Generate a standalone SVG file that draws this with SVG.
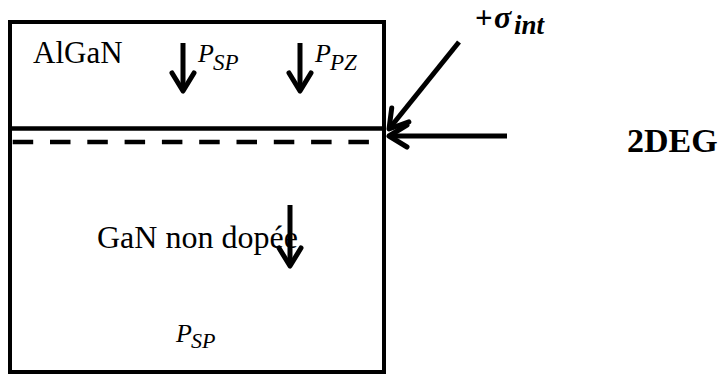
<svg xmlns="http://www.w3.org/2000/svg" width="720" height="376" viewBox="0 0 720 376">
<style>
.border{fill:none;stroke:#000;stroke-width:4}
.t{font-family:'Liberation Serif','Times New Roman',serif;fill:#000}
.m{font-family:'Liberation Serif','Times New Roman',serif;font-style:italic;fill:#000}
.arr{stroke:#000;stroke-width:5;fill:none}
</style>
<defs>
<marker id="ah" markerUnits="userSpaceOnUse" markerWidth="30" markerHeight="30" viewBox="-25 -15 30 30" refX="0" refY="0" orient="auto">
<path d="M-18,-11 L0,0 L-18,11" fill="none" stroke="#000" stroke-width="5" stroke-linejoin="round" stroke-linecap="round"/>
</marker>
</defs>
<g id="structure">
<rect class="border" x="10" y="22" width="374" height="350"/>
<line x1="10" y1="128.5" x2="384" y2="128.5" stroke="#000" stroke-width="4.5"/>
<line x1="12.7" y1="142" x2="370" y2="142" stroke="#000" stroke-width="4.5" stroke-dasharray="20.5 16.8"/>
</g>
<g id="algan">
<text class="t" x="33" y="63" font-size="31">AlGaN</text>
</g>
<g id="psp-top">
<text class="m" x="198" y="62" font-size="26">P</text>
<text class="m" x="213" y="70" font-size="23">SP</text>
</g>
<g id="ppz">
<text class="m" x="315" y="62" font-size="26">P</text>
<text class="m" x="330" y="70" font-size="23">PZ</text>
</g>
<g id="gan">
<text class="t" x="97" y="248" font-size="32">GaN non dopée</text>
</g>
<g id="psp-bottom">
<text class="m" x="176" y="342" font-size="26">P</text>
<text class="m" x="191" y="348" font-size="22">SP</text>
</g>
<g id="sigma">
<text class="t" x="475" y="28" font-size="31" font-weight="bold">+</text>
<text class="m" x="494" y="28" font-size="32" font-weight="bold">σ</text>
<text class="m" x="514" y="34" font-size="27" font-weight="bold">int</text>
</g>
<g id="deg">
<text class="t" x="627" y="152" font-size="34" font-weight="bold">2DEG</text>
</g>
<g id="connectors">
<line class="arr" x1="183" y1="43" x2="183" y2="91" marker-end="url(#ah)"/>
<line class="arr" x1="300" y1="43" x2="300" y2="91" marker-end="url(#ah)"/>
<line class="arr" x1="290" y1="205" x2="290" y2="266" marker-end="url(#ah)"/>
<line class="arr" x1="459" y1="42" x2="389" y2="129" marker-end="url(#ah)"/>
<line class="arr" x1="507" y1="136" x2="389" y2="136" marker-end="url(#ah)"/>
</g>
</svg>
